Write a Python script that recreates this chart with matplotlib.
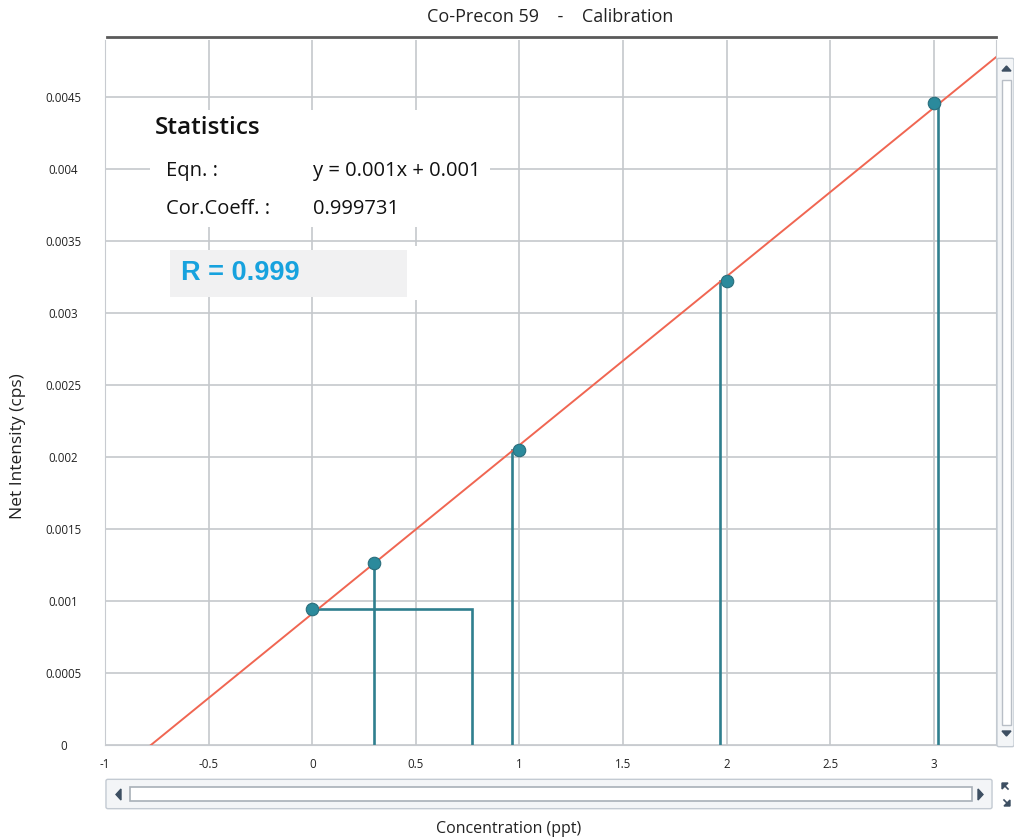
import numpy as np
import matplotlib.pyplot as plt
from matplotlib.patches import Rectangle, FancyBboxPatch, Polygon

# Dane kalibracji
conc = [0, 0.3, 1, 2, 3]
intensity = [0.000944, 0.001264, 0.002049, 0.003222, 0.004458]
drop_x = [0.77, 0.3, 0.965, 1.97, 3.02]  # gdzie schodzą pionowe linie

x_ticks = [-1, -0.5, 0, 0.5, 1, 1.5, 2, 2.5, 3]
x_ticklabels = ['-1', '-0.5', '0', '0.5', '1', '1.5', '2', '2.5', '3']
y_ticks = [0, 0.0005, 0.001, 0.0015, 0.002, 0.0025, 0.003, 0.0035, 0.004, 0.0045]
y_ticklabels = ['0', '0.0005', '0.001', '0.0015', '0.002', '0.0025', '0.003', '0.0035', '0.004', '0.0045']

title = 'Co-Precon 59    -    Calibration'
eqn_text = 'y = 0.001x + 0.001'
coeff_text = '0.999731'
r_text = 'R = 0.999'

plt.rcParams['font.family'] = ['Open Sans', 'DejaVu Sans']

W, H = 1014, 839
fig = plt.figure(figsize=(W / 100, H / 100), dpi=100)


def fx(px):
    return px / W


def fy(py):
    return 1 - py / H


def px_rect(x0, y0, x1, y1, **kw):
    r = Rectangle((fx(x0), fy(y1)), fx(x1) - fx(x0), fy(y0) - fy(y1),
                  transform=fig.transFigure, **kw)
    fig.add_artist(r)
    return r


def px_poly(pts, **kw):
    p = Polygon([[fx(a), fy(b)] for a, b in pts], closed=True,
                transform=fig.transFigure, **kw)
    fig.add_artist(p)
    return p


ax = fig.add_axes([fx(105), fy(745), fx(996) - fx(105), (745 - 40) / H])
ax.set_xlim(-1, 3.3)
ax.set_ylim(0, 0.004896)

# Linia dopasowania
slope, intercept = np.polyfit(conc, intensity, 1)
xs = np.array([-1, 3.3])
ax.plot(xs, slope * xs + intercept, color='#f06652', lw=1.4, zorder=3)

# Linie pionowe / poziome od punktów
teal = '#2f7f8e'
ax.plot([conc[0], drop_x[0], drop_x[0]], [intensity[0], intensity[0], 0],
        color=teal, lw=1.9, zorder=2, solid_joinstyle='miter')
for i in range(1, len(conc)):
    ax.plot([drop_x[i], drop_x[i]], [0, intensity[i]], color=teal, lw=1.9, zorder=2)

ax.plot(conc, intensity, 'o', ms=9, mfc='#2b8a9c', mec='#2a6e7c', mew=0.8, zorder=4)

ax.set_xticks(x_ticks)
ax.set_xticklabels(x_ticklabels)
ax.set_yticks(y_ticks)
ax.set_yticklabels(y_ticklabels, ha='center')
ax.tick_params(axis='both', length=0, labelsize=8.3, colors='#222222')
ax.tick_params(axis='y', pad=30)
ax.tick_params(axis='x', pad=9)
ax.grid(True, color='#c5c8cc', lw=1.2, zorder=0)
ax.set_axisbelow(True)
for s in ['left', 'bottom', 'right']:
    ax.spines[s].set_color('#c8cbd0')
ax.spines['top'].set_visible(False)

fig.text(fx(18), fy(446), 'Net Intensity (cps)', rotation=90, ha='center', va='center',
         fontsize=12.5, color='#222222')
fig.text(fx(509), fy(829), 'Concentration (ppt)', ha='center', va='center',
         fontsize=11.5, color='#222222')
fig.text(fx(550), fy(17), title, ha='center', va='center', fontsize=13, color='#222222')

# Linia pod tytułem
fig.add_artist(plt.Line2D([fx(107), fx(996)], [fy(37), fy(37)], color='#5a5a5a', lw=2,
                          transform=fig.transFigure))

# Statystyki
px_rect(150, 110, 490, 227, facecolor='white', edgecolor='none', zorder=1)
fig.text(fx(155), fy(128), 'Statistics', ha='left', va='center', fontsize=17.5,
         fontweight='semibold', color='#111111')
fig.text(fx(166), fy(171), 'Eqn. :', ha='left', va='center', fontsize=14.5, color='#111111')
fig.text(fx(313), fy(171), eqn_text, ha='left', va='center', fontsize=14.5, color='#111111')
fig.text(fx(166), fy(209), 'Cor.Coeff. :', ha='left', va='center', fontsize=14.5, color='#111111')
fig.text(fx(313), fy(209), coeff_text, ha='left', va='center', fontsize=14.5, color='#111111')

px_rect(407, 246, 500, 300, facecolor='white', edgecolor='none', zorder=1)
px_rect(170, 250, 407, 297, facecolor='#f1f1f2', edgecolor='none', zorder=1)
fig.text(fx(181), fy(273), r_text, ha='left', va='center', fontsize=19.5, fontweight='bold',
         family=['Liberation Sans', 'DejaVu Sans'], color='#17a2de', zorder=2)

# Paski przewijania
sb_edge = '#c3cad2'
sb_fill = '#f3f5f7'
arrow_c = '#3d4f62'
vb = FancyBboxPatch((fx(999), fy(745)), fx(1012) - fx(999), fy(60) - fy(745),
                    boxstyle='round,pad=0.002', transform=fig.transFigure,
                    facecolor=sb_fill, edgecolor=sb_edge, lw=1)
fig.add_artist(vb)
px_rect(1002, 80, 1011, 725, facecolor='white', edgecolor='#b8bec6', lw=1)
px_poly([(1002, 71), (1011, 71), (1006.5, 66)], color=arrow_c)
px_poly([(1002, 731), (1011, 731), (1006.5, 736)], color=arrow_c)

hb = FancyBboxPatch((fx(108), fy(807)), fx(990) - fx(108), fy(781) - fy(807),
                    boxstyle='round,pad=0.002', transform=fig.transFigure,
                    facecolor=sb_fill, edgecolor=sb_edge, lw=1)
fig.add_artist(hb)
px_rect(130, 787, 972, 801, facecolor='white', edgecolor='#a8b0b8', lw=1.2)
px_poly([(121, 789), (121, 800), (116, 794.5)], color=arrow_c)
px_poly([(978, 789), (978, 800), (983, 794.5)], color=arrow_c)

# ikona zmiany rozmiaru (dwie strzałki)
px_poly([(1002, 783), (1008, 783), (1002, 789)], color=arrow_c)
px_poly([(1010, 806), (1004, 806), (1010, 800)], color=arrow_c)
fig.add_artist(plt.Line2D([fx(1003), fx(1008)], [fy(784), fy(789)], color=arrow_c, lw=1.2,
                          transform=fig.transFigure))
fig.add_artist(plt.Line2D([fx(1009), fx(1004)], [fy(805), fy(800)], color=arrow_c, lw=1.2,
                          transform=fig.transFigure))

fig.savefig('out.png', dpi=100)
